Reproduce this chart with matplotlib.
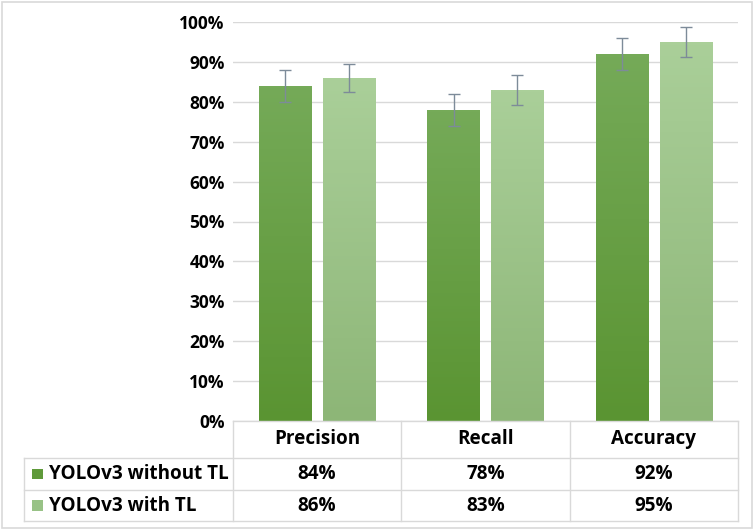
import numpy as np
import matplotlib.pyplot as plt
from matplotlib.colors import LinearSegmentedColormap
from matplotlib.patches import Rectangle

categories = ["Precision", "Recall", "Accuracy"]
series_names = ["YOLOv3 without TL", "YOLOv3 with TL"]
without_tl = [84, 78, 92]
with_tl = [86, 83, 95]
err_without = [4, 4, 4]
err_with = [3.5, 3.7, 3.7]
yticks = [0, 10, 20, 30, 40, 50, 60, 70, 80, 90, 100]

plt.rcParams["font.family"] = ["Open Sans", "DejaVu Sans"]
plt.rcParams["font.weight"] = "bold"

grid_c = "#d9d9d9"
dark = ("#75aa58", "#5a9432")
light = ("#aacf99", "#8db677")
swatch = ["#5f9a3a", "#98c286"]
fs_tick = 12.5
fs = 13.6

fig = plt.figure(figsize=(7.54, 5.30), dpi=100)
fig.patches.append(Rectangle((0.003, 0.004), 0.994, 0.992, transform=fig.transFigure,
                             fill=False, edgecolor=grid_c, linewidth=1.2))
ax = fig.add_axes([233 / 754, 1 - 421 / 530, 505 / 754, 399 / 530])

ax.set_xlim(0, 3)
ax.set_ylim(0, 100)
ax.set_yticks(yticks)
ax.set_yticklabels([f"{t}%" for t in yticks], fontsize=fs_tick, fontweight="bold")
ax.set_xticks([])
ax.tick_params(axis="y", length=0, pad=6)
for s in ax.spines.values():
    s.set_visible(False)
ax.yaxis.grid(True, color=grid_c, linewidth=1)
ax.set_axisbelow(True)

x = np.arange(len(categories)) + 0.5
w = 0.31
off = 0.19


def grad_bar(xc, h, cols):
    cmap = LinearSegmentedColormap.from_list("g", [cols[1], cols[0]])
    rect = Rectangle((xc - w / 2, 0), w, h, facecolor="none", edgecolor="none")
    ax.add_patch(rect)
    img = ax.imshow(np.linspace(0, 1, 100).reshape(-1, 1), cmap=cmap, origin="lower",
                    extent=(xc - w / 2, xc + w / 2, 0, h), aspect="auto", zorder=2)
    img.set_clip_path(rect)


for i in range(len(categories)):
    grad_bar(x[i] - off, without_tl[i], dark)
    grad_bar(x[i] + off, with_tl[i], light)

ax.errorbar(x - off, without_tl, yerr=err_without, fmt="none", ecolor="#7d8b99",
            elinewidth=1, capsize=4, capthick=1, zorder=3)
ax.errorbar(x + off, with_tl, yerr=err_with, fmt="none", ecolor="#7d8b99",
            elinewidth=1, capsize=4, capthick=1, zorder=3)
ax.set_xlim(0, 3)
ax.set_ylim(0, 100)

# data table under the axes
tr = ax.transAxes
rows_y = [0, -0.0927, -0.173, -0.2506]
left = -0.414
kw = dict(transform=tr, color=grid_c, linewidth=1, clip_on=False)
ax.plot([0, 1], [0, 0], **kw)
for y in rows_y[1:]:
    ax.plot([left, 1], [y, y], **kw)
for xv in [0, 1 / 3, 2 / 3, 1]:
    ax.plot([xv, xv], [0, rows_y[-1]], **kw)
ax.plot([left, left], [rows_y[1], rows_y[-1]], **kw)

for i, c in enumerate(categories):
    ax.text((i + 0.5) / 3, (rows_y[0] + rows_y[1]) / 2, c, transform=tr,
            ha="center", va="center", fontsize=fs, fontweight="bold")

for r, (name, vals) in enumerate(zip(series_names, [without_tl, with_tl])):
    yc = (rows_y[r + 1] + rows_y[r + 2]) / 2
    ax.add_patch(Rectangle((left + 0.016, yc - 0.0128), 0.021, 0.0256, transform=tr,
                           facecolor=swatch[r], edgecolor="none", clip_on=False))
    ax.text(left + 0.05, yc, name, transform=tr, ha="left", va="center",
            fontsize=fs, fontweight="bold")
    for i, v in enumerate(vals):
        ax.text((i + 0.5) / 3, yc, f"{v}%", transform=tr, ha="center", va="center",
                fontsize=fs, fontweight="bold")

fig.savefig("out.png", dpi=100)
